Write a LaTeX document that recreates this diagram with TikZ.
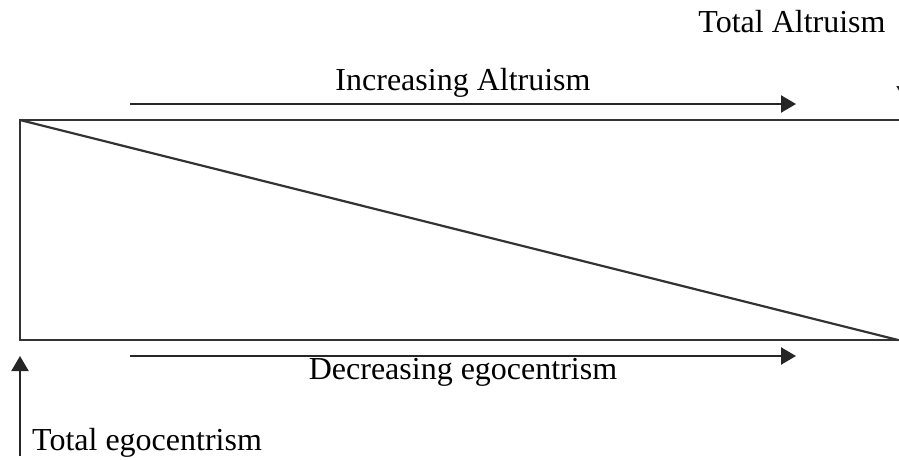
\documentclass[tikz,border=0pt]{standalone}
\usepackage{fontspec}
\setmainfont{Liberation Serif}
\usetikzlibrary{arrows.meta}
\begin{document}
\begin{tikzpicture}[x=1pt,y=-1pt,
  frame/.style={line width=2.2pt, draw=black!80},
  arr/.style={line width=2.2pt, draw=black!85, -{Triangle[length=15pt,width=17pt]}},
  lbl/.style={font=\fontsize{32}{38}\selectfont, inner sep=0pt, anchor=base, text=black}]
\useasboundingbox (0,0) rectangle (899,460);
\clip (0,0) rectangle (899,460);
% corners
\coordinate (tl) at (20,120);
\coordinate (bl) at (20,340);
\coordinate (tr) at (910,120);
\coordinate (br) at (910,340);
\coordinate (diagend) at (898,340);
% rectangle and diagonal
\draw[frame] (tr) -- (tl) -- (bl) -- (br);
\draw[frame] (tl) -- (diagend);
% arrows
\coordinate (ia1) at (130,104);
\coordinate (ia2) at (796,104);
\coordinate (de1) at (130,356);
\coordinate (de2) at (796,356);
\coordinate (eg1) at (20,456);
\coordinate (eg2) at (20,356);
\coordinate (ta1) at (905,50);
\coordinate (ta2) at (905,101);
\draw[arr] (ia1) -- (ia2);
\draw[arr] (de1) -- (de2);
\draw[arr] (eg1) -- (eg2);
\draw[arr] (ta1) -- (ta2);
% labels
\node[lbl] (totalalt) at (792,33) {Total Altruism};
\node[lbl] (incalt) at (463,90) {Increasing Altruism};
\node[lbl] (decego) at (463,379) {Decreasing egocentrism};
\node[lbl, anchor=base west] (totalego) at (32,450) {Total egocentrism};
\end{tikzpicture}
\end{document}
